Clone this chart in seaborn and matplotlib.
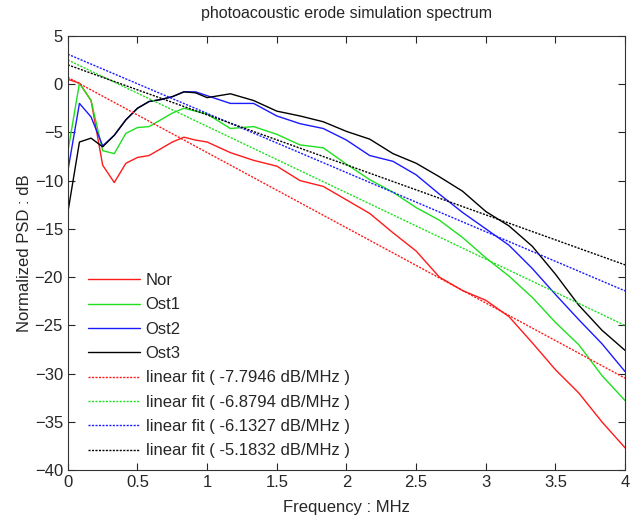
import numpy as np
import pandas as pd
import matplotlib
matplotlib.use("Agg")
import matplotlib.pyplot as plt
import seaborn as sns

# frequency grid (MHz)
freq = [0, 0.0833, 0.1667, 0.25, 0.3333, 0.4167, 0.5, 0.5833, 0.6667, 0.75, 0.8333, 0.9167, 1.0,
        1.1667, 1.3333, 1.5, 1.6667, 1.8333, 2.0, 2.1667, 2.3333, 2.5, 2.6667, 2.8333, 3.0,
        3.1667, 3.3333, 3.5, 3.6667, 3.8333, 4.0]

nor = [0.5, 0.1, -1.7, -8.4, -10.2, -8.2, -7.6, -7.4, -6.7, -6.0, -5.5, -5.8, -6.0,
       -7.1, -7.9, -8.5, -10.0, -10.6, -12.0, -13.4, -15.4, -17.3, -20.0, -21.4, -22.4,
       -24.1, -26.8, -29.6, -32.0, -35.0, -37.7]
ost1 = [-7.0, 0.1, -1.7, -6.9, -7.2, -5.1, -4.5, -4.4, -3.7, -3.0, -2.5, -2.8, -3.1,
        -4.6, -4.4, -5.2, -6.3, -6.6, -8.3, -9.9, -11.2, -12.8, -14.1, -15.9, -18.0,
        -19.9, -22.1, -24.7, -27.0, -30.2, -32.8]
ost2 = [-9.0, -2.0, -3.4, -6.4, -5.3, -3.7, -2.5, -1.8, -1.6, -1.3, -0.8, -0.8, -1.2,
        -2.0, -2.0, -3.3, -4.1, -4.6, -5.8, -7.4, -8.0, -9.4, -11.4, -13.3, -15.0,
        -16.7, -19.1, -21.8, -24.4, -26.9, -29.8]
ost3 = [-13.3, -6.0, -5.6, -6.5, -5.3, -3.7, -2.5, -1.8, -1.6, -1.3, -0.8, -0.9, -1.4,
        -1.0, -1.7, -2.8, -3.3, -3.9, -4.9, -5.7, -7.2, -8.2, -9.6, -11.1, -13.2,
        -14.7, -16.8, -19.7, -22.9, -25.5, -27.6]

names = ["Nor", "Ost1", "Ost2", "Ost3"]
slopes = [-7.7946, -6.8794, -6.1327, -5.1832]   # dB/MHz
intercepts = [0.7, 2.5, 3.1, 2.0]               # dB
colors = ["#ff1a1a", "#1ee01e", "#1a1aff", "#000000"]

sns.set_style("ticks")
plt.rcParams["font.family"] = ["Liberation Sans", "DejaVu Sans"]

fig = plt.figure(figsize=(6.34, 5.2), dpi=100)
ax = fig.add_axes([0.107, 0.096, 0.879, 0.835])

x = np.array(freq)
for name, y, c in zip(names, [nor, ost1, ost2, ost3], colors):
    sns.lineplot(x=x, y=y, color=c, lw=1.0, label=name, ax=ax)

for m, b, c in zip(slopes, intercepts, colors):
    fit = b + m * x
    sns.lineplot(x=x, y=fit, color=c, lw=1.0, linestyle=(0, (1.5, 1)),
                 label="linear fit ( %.4f dB/MHz )" % m, ax=ax)

ax.set_xlim(0, 4)
ax.set_ylim(-40, 5)
ax.set_xticks(np.arange(0, 4.01, 0.5))
ax.set_xticklabels(["0", "0.5", "1", "1.5", "2", "2.5", "3", "3.5", "4"])
ax.set_yticks(np.arange(-40, 6, 5))
ax.tick_params(direction="in", top=True, right=True, labelsize=12, length=5, width=0.8)
for s in ax.spines.values():
    s.set_linewidth(0.8)
    s.set_color("#333333")

ax.set_xlabel("Frequency : MHz", fontsize=12, labelpad=7)
ax.set_ylabel("Normalized PSD : dB", fontsize=12, labelpad=2)
ax.set_title("photoacoustic erode simulation spectrum", fontsize=11.5, pad=13)

ax.legend(loc="lower left", bbox_to_anchor=(0.015, 0.0), frameon=False, fontsize=12,
          handlelength=3.1, handletextpad=0.36, labelspacing=0.56, borderaxespad=0.3)

fig.savefig("out.png", dpi=100)
